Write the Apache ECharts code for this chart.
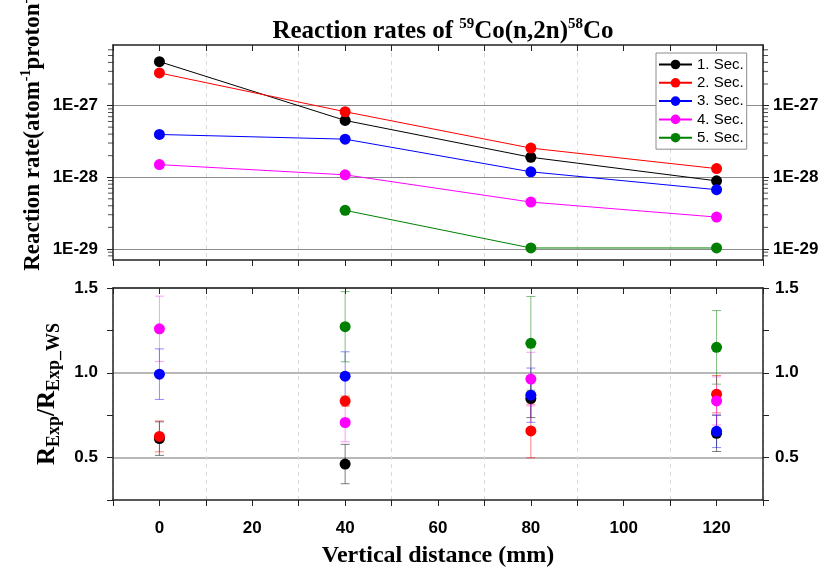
<!DOCTYPE html>
<html>
<head>
<meta charset="utf-8">
<script src="https://cdn.jsdelivr.net/npm/echarts@6/dist/echarts.min.js"></script>
<style>
  html, body { margin: 0; padding: 0; background: #fff; }
  #chart { width: 840px; height: 575px; }
</style>
</head>
<body>
<div id="chart"></div>
<script>
// Measurement positions (mm)
const distances = [0, 40, 80, 120];
const sectionNames = ['1. Sec.', '2. Sec.', '3. Sec.', '4. Sec.', '5. Sec.'];
const sectionColors = ['#000000', '#ff0000', '#0000ff', '#ff00ff', '#008000'];
const errorColors = ['rgba(0,0,0,0.5)', 'rgba(255,0,0,0.5)', 'rgba(0,0,255,0.45)', 'rgba(255,0,255,0.4)', 'rgba(0,128,0,0.5)'];

// Reaction rates (atom^-1 proton^-1)
const rate1 = [4.1e-27, 6.2e-28, 1.9e-28, 8.9e-29];
const rate2 = [2.85e-27, 8.2e-28, 2.55e-28, 1.32e-28];
const rate3 = [3.95e-28, 3.4e-28, 1.19e-28, 6.7e-29];
const rate4 = [1.5e-28, 1.08e-28, 4.5e-29, 2.78e-29];
const rate5 = [null, 3.45e-29, 1.03e-29, 1.03e-29];

// Ratio R_Exp / R_Exp_WS and its uncertainty
const ratio1 = [0.612, 0.462, 0.848, 0.643];
const ratio2 = [0.625, 0.833, 0.657, 0.874];
const ratio3 = [0.992, 0.980, 0.868, 0.655];
const ratio4 = [1.259, 0.707, 0.963, 0.834];
const ratio5 = [null, 1.272, 1.174, 1.150];
const err1 = [0.099, 0.116, 0.112, 0.107];
const err2 = [0.091, 0.03, 0.158, 0.11];
const err3 = [0.149, 0.144, 0.16, 0.096];
const err4 = [0.193, 0.114, 0.158, 0.142];
const err5 = [null, 0.207, 0.276, 0.217];

const rates = [rate1, rate2, rate3, rate4, rate5];
const ratios = [ratio1, ratio2, ratio3, ratio4, ratio5];
const errors = [err1, err2, err3, err4, err5];

const xTickLabels = [0, 20, 40, 60, 80, 100, 120];
const ratioTickLabels = [0.5, 1.0, 1.5];

// Axis ranges, and the minor tick mantissas inside each decade of the log axis
const xMin = -10, xMax = 130;
const rateMin = 7e-30, rateMax = 7e-27;
const minorMantissas = [2, 3, 4, 5, 6, 7, 8, 9];
const decades = [-30, -29, -28, -27];

const chart = echarts.init(document.getElementById('chart'), null, { renderer: 'canvas' });

const labelFont = { fontFamily: 'Liberation Sans', fontWeight: 'bold', fontSize: 17, color: '#000' };
const nameFont = 'Liberation Serif';
const axisLine = { show: true, onZero: false, lineStyle: { color: '#222', width: 1.5 } };
const tickStyle = { color: '#222', width: 1 };

function xAxisBase(gridIndex, position, opts) {
  return Object.assign({
    type: 'value', gridIndex: gridIndex, position: position,
    min: xMin, max: xMax, interval: 10,
    axisLine: axisLine,
    axisTick: { show: true, inside: position === 'top', length: 6, lineStyle: tickStyle },
    axisLabel: { show: false },
    splitLine: { show: false }
  }, opts || {});
}

const verticalGrid = {
  show: true,
  lineStyle: { color: ['#d9d9d9', 'transparent'], type: [4, 4], width: 1 }
};

function logLabel(v) {
  const e = Math.round(Math.log10(v));
  if (Math.abs(Math.log10(v) - e) > 1e-6) return '';
  return '1E' + e;
}

function ratioLabel(v) {
  for (const t of ratioTickLabels) if (Math.abs(v - t) < 1e-9) return t.toFixed(1);
  return '';
}

const yLog = (position) => ({
  type: 'log', gridIndex: 0, position: position,
  min: rateMin, max: rateMax, logBase: 10,
  axisLine: axisLine,
  axisTick: { show: true, length: 6, lineStyle: tickStyle },
  axisLabel: Object.assign({ formatter: logLabel, margin: position === 'left' ? 15 : 10, showMinLabel: false, showMaxLabel: false }, labelFont),
  splitLine: { show: position === 'left', lineStyle: { color: '#8c8c8c', width: 1 } }
});

const yRatio = (position) => ({
  type: 'value', gridIndex: 1, position: position,
  min: 0.25, max: 1.5, interval: 0.25,
  axisLine: axisLine,
  axisTick: { show: true, length: 6, lineStyle: tickStyle },
  axisLabel: Object.assign({ formatter: ratioLabel, margin: position === 'left' ? 15 : 12 }, labelFont),
  splitLine: { show: position === 'left', lineStyle: { color: ['transparent', '#b8b8b8'], width: 2 } }
});

const series = [];
sectionNames.forEach((name, i) => {
  series.push({
    name: name, type: 'line', xAxisIndex: 0, yAxisIndex: 0,
    data: distances.map((d, k) => [d, rates[i][k]]).filter(p => p[1] != null),
    symbol: 'circle', symbolSize: 11,
    itemStyle: { color: sectionColors[i] },
    lineStyle: { color: sectionColors[i], width: 1 },
    z: 3 + i
  });
});

// Logarithmic minor ticks (2..9 of each decade) on both frame sides of the rate panel
const minorValues = [];
decades.forEach(e => minorMantissas.forEach(m => {
  const v = m * Math.pow(10, e);
  if (v > rateMin && v < rateMax) minorValues.push(v);
}));
[[xMin, -2.5], [xMax, 2.5]].forEach(([edge, shift]) => {
  series.push({
    name: 'minor ticks', type: 'scatter', xAxisIndex: 0, yAxisIndex: 0,
    data: minorValues.map(v => [edge, v]),
    symbol: 'rect', symbolSize: [5, 1], symbolOffset: [shift, 0],
    itemStyle: { color: '#222' },
    silent: true, clip: false, z: 10
  });
});

// Error bars in the ratio panel
sectionNames.forEach((name, i) => {
  const data = distances.map((d, k) => [d, ratios[i][k], errors[i][k]]).filter(p => p[1] != null);
  series.push({
    name: name + ' err', type: 'custom', xAxisIndex: 2, yAxisIndex: 2,
    data: data, silent: true, z: 1,
    renderItem: function (params, api) {
      const x = api.value(0), y = api.value(1), e = api.value(2);
      const top = api.coord([x, y + e]);
      const bot = api.coord([x, y - e]);
      const w = 4.5;
      const style = { stroke: errorColors[i], lineWidth: 1, fill: null };
      return {
        type: 'group',
        children: [
          { type: 'line', shape: { x1: top[0], y1: top[1], x2: bot[0], y2: bot[1] }, style: style },
          { type: 'line', shape: { x1: top[0] - w, y1: top[1], x2: top[0] + w, y2: top[1] }, style: style },
          { type: 'line', shape: { x1: bot[0] - w, y1: bot[1], x2: bot[0] + w, y2: bot[1] }, style: style }
        ]
      };
    }
  });
});

sectionNames.forEach((name, i) => {
  series.push({
    name: name, type: 'scatter', xAxisIndex: 2, yAxisIndex: 2,
    data: distances.map((d, k) => [d, ratios[i][k]]).filter(p => p[1] != null),
    symbol: 'circle', symbolSize: 11,
    itemStyle: { color: sectionColors[i], opacity: 1 },
    z: 3 + i
  });
});

const supStyle = { fontFamily: nameFont, fontWeight: 'bold', fontSize: 14, verticalAlign: 'top', lineHeight: 14, color: '#000' };
const subStyle = { fontFamily: nameFont, fontWeight: 'bold', fontSize: 18, verticalAlign: 'bottom', lineHeight: 18, color: '#000' };
const mainStyle = { fontFamily: nameFont, fontWeight: 'bold', fontSize: 23, lineHeight: 28, color: '#000' };
const ratioMain = { fontFamily: nameFont, fontWeight: 'bold', fontSize: 25, lineHeight: 30, color: '#000' };
const titleStyle = { fontFamily: nameFont, fontWeight: 'bold', fontSize: 25, lineHeight: 30, color: '#000' };
const titleSup = { fontFamily: nameFont, fontWeight: 'bold', fontSize: 15, verticalAlign: 'top', lineHeight: 15, color: '#000' };

chart.setOption({
  animation: false,
  backgroundColor: '#fff',
  title: {
    text: '{m|Reaction rates of }{s|59}{m|Co(n,2n)}{s|58}{m|Co}',
    left: 438, top: 12, textAlign: 'center',
    textStyle: { rich: { m: titleStyle, s: titleSup } }
  },
  legend: {
    data: sectionNames,
    orient: 'vertical',
    left: 656, top: 53,
    padding: [4, 3, 4, 2],
    itemGap: 3.3,
    itemWidth: 33, itemHeight: 12,
    backgroundColor: '#fff',
    borderColor: '#8c8c8c', borderWidth: 1, borderRadius: 0,
    textStyle: { fontFamily: 'Liberation Sans', fontSize: 15, lineHeight: 15, color: '#000' },
    itemStyle: { borderWidth: 0 }
  },
  grid: [
    { left: 113, right: 77, top: 45, height: 215, outerBoundsMode: 'none', containLabel: false },
    { left: 113, right: 77, top: 288, height: 212, outerBoundsMode: 'none', containLabel: false }
  ],
  xAxis: [
    xAxisBase(0, 'bottom', { splitLine: verticalGrid }),
    xAxisBase(0, 'top'),
    xAxisBase(1, 'bottom', {
      splitLine: verticalGrid,
      axisLabel: Object.assign({
        show: true, margin: 20,
        formatter: v => xTickLabels.includes(v) ? String(v) : ''
      }, labelFont),
      name: 'Vertical distance (mm)', nameLocation: 'middle', nameGap: 44,
      nameMoveOverlap: false,
      nameTextStyle: { fontFamily: nameFont, fontWeight: 'bold', fontSize: 24, color: '#000' }
    }),
    xAxisBase(1, 'top')
  ],
  yAxis: [
    Object.assign(yLog('left'), {
      name: '{m|Reaction rate(atom}{s|-1}{m|proton}{s|-1}{m|)}',
      nameLocation: 'middle', nameGap: 66, nameMoveOverlap: false,
      nameTextStyle: { rich: { m: mainStyle, s: supStyle }, padding: [0, 0, 0, 50] }
    }),
    yLog('right'),
    Object.assign(yRatio('left'), {
      name: '{m|R}{b|Exp}{m|/R}{b|Exp_WS}',
      nameLocation: 'middle', nameGap: 50, nameMoveOverlap: false,
      nameTextStyle: { rich: { m: ratioMain, b: subStyle } }
    }),
    yRatio('right')
  ],
  series: series
});
</script>
</body>
</html>
